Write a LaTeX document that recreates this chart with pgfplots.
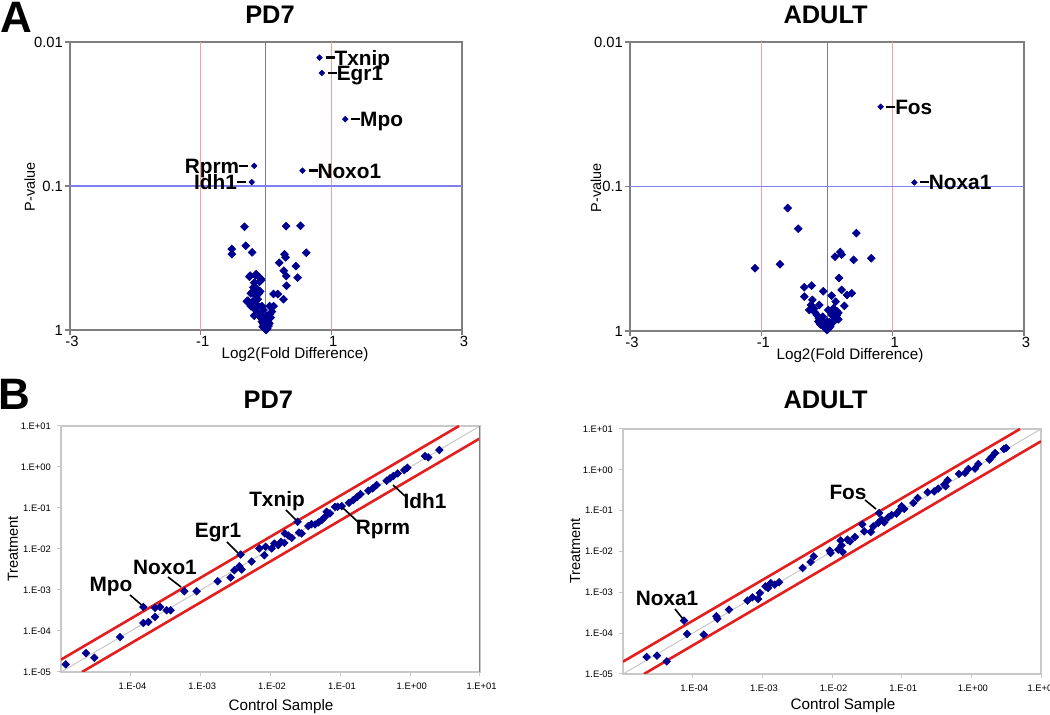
\documentclass[border=0pt]{standalone}
\usepackage{pgfplots}
\pgfplotsset{compat=1.18}
\usepackage{fontspec}
\setmainfont{Liberation Sans}
\definecolor{navy}{HTML}{000090}
\definecolor{boxgray}{HTML}{7F7F7F}
\definecolor{pinkred}{HTML}{F2A0A0}
\definecolor{lineblue}{HTML}{8080F0}
\definecolor{redline}{HTML}{E41E1E}
\definecolor{lgray}{HTML}{C8C8C8}
\newcommand{\fs}[1]{\fontsize{#1}{#1}\selectfont}
\newcommand{\gl}{\bfseries\fs{10.4}}
\newcommand{\rd}{\rule[3.2pt]{4.5pt}{1.1pt}}
\begin{document}
\begin{tikzpicture}
\path[use as bounding box] (0,0) rectangle (525pt,357.5pt);

% ---------------- A: PD7 volcano ----------------
\begin{axis}[scale only axis, width=196pt, height=144pt, at={(35pt,192.5pt)}, anchor=south west,
    xmin=-3, xmax=3, ymode=log, ymin=0.01, ymax=1, y dir=reverse,
    xtick={-3,-1,1,3}, xticklabels={-3,-1,1,3},
    ytick={0.01,0.1,1}, yticklabels={0.01,0.1,1},
    yminorticks=false,
    axis line style={boxgray, line width=1.1pt},
    tick style={boxgray, line width=0.6pt},
    tick align=outside, major tick length=2.5pt,
    xtick pos=left, ytick pos=left,
    ticklabel style={font=\fs{7.4}},
    xticklabel style={yshift=3pt, xshift=1pt},
    yticklabel style={xshift=2.5pt}]
\addplot[pinkred, line width=0.6pt] coordinates {(-1,0.01) (-1,1)};
\addplot[pinkred, line width=0.6pt] coordinates {(1,0.01) (1,1)};
\addplot[boxgray, line width=0.5pt] coordinates {(0,0.01) (0,1)};
\addplot[lineblue, line width=0.6pt] coordinates {(-3,0.1) (3,0.1)};
\addplot[only marks, mark=square*, mark options={rotate=45}, mark size=1.35pt, color=navy] coordinates {
(-0.33,0.192) (0.309,0.19) (0.529,0.189) (-0.523,0.274) (-0.523,0.297) (-0.309,0.26)
(-0.212,0.289) (0.616,0.291) (0.284,0.298) (0.299,0.313) (0.202,0.341) (0.457,0.36)
(0.273,0.388) (0.309,0.422) (0.483,0.433) (0.314,0.493) (0.115,0.563) (0.181,0.563)
(0.268,0.612) (-0.243,0.42) (-0.151,0.41) (-0.074,0.45) (-0.105,0.43) (-0.181,0.506)
(-0.13,0.522) (-0.202,0.542) (-0.089,0.539) (-0.278,0.626) (-0.125,0.612) (-0.151,0.66)
(-0.253,0.427) (-0.161,0.418) (-0.079,0.441) (-0.1,0.462) (-0.192,0.506) (-0.140,0.522)
(-0.110,0.557) (-0.232,0.557) (-0.294,0.633) (-0.202,0.633) (-0.151,0.661) (-0.232,0.683)
(-0.130,0.689) (-0.064,0.683) (-0.038,0.726) (0.054,0.683) (0.115,0.683) (0.089,0.746)
(-0.181,0.796) (-0.089,0.774) (-0.064,0.83) (0.013,0.796) (-0.028,0.861) (0.028,0.875)
(-0.038,0.908) (0.013,0.922) (-0.013,0.972) (0,1.0) (0.038,0.938) (-0.064,0.875)
(-0.05,0.95) (0.05,0.9) (0.02,0.98) (-0.1,0.8) (0.07,0.82) (-0.02,0.93)
(-0.17,0.72) (-0.12,0.76) (-0.08,0.82) (-0.04,0.88) (0.03,0.85) (0.06,0.78)
(-0.15,0.58) (-0.18,0.47) (-0.06,0.69) (0.0,0.95) (-0.01,0.9) (0.025,0.94)
};
\addplot[only marks, mark=square*, mark options={rotate=45}, mark size=0.95pt, color=navy] coordinates {
(0.82,0.01285) (0.855,0.0164) (1.213,0.0344) (0.559,0.0782) (-0.181,0.0725) (-0.217,0.094)
};
\node[anchor=base west, inner sep=0, xshift=2.8pt, yshift=-3.7pt, font=\gl] at (axis cs:0.82,0.01285) {\rd Txnip};
\node[anchor=base west, inner sep=0, xshift=2.8pt, yshift=-3.7pt, font=\gl] at (axis cs:0.855,0.0164) {\rd Egr1};
\node[anchor=base west, inner sep=0, xshift=2.8pt, yshift=-3.7pt, font=\gl] at (axis cs:1.213,0.0344) {\rd Mpo};
\node[anchor=base west, inner sep=0, xshift=2.8pt, yshift=-3.7pt, font=\gl] at (axis cs:0.559,0.0782) {\rd Noxo1};
\node[anchor=base east, inner sep=0, xshift=-2.8pt, yshift=-3.7pt, font=\gl] at (axis cs:-0.181,0.0725) {Rprm\rd};
\node[anchor=base east, inner sep=0, xshift=-2.8pt, yshift=-3.7pt, font=\gl] at (axis cs:-0.217,0.094) {Idh1\rd};
\end{axis}

% ---------------- A: ADULT volcano ----------------
\begin{axis}[scale only axis, width=197pt, height=144.5pt, at={(315pt,192pt)}, anchor=south west,
    xmin=-3, xmax=3, ymode=log, ymin=0.01, ymax=1, y dir=reverse,
    xtick={-3,-1,1,3}, xticklabels={-3,-1,1,3},
    ytick={0.01,0.1,1}, yticklabels={0.01,0.1,1},
    yminorticks=false,
    axis line style={boxgray, line width=1.1pt},
    tick style={boxgray, line width=0.6pt},
    tick align=outside, major tick length=2.5pt,
    xtick pos=left, ytick pos=left,
    ticklabel style={font=\fs{7.4}},
    xticklabel style={yshift=3pt, xshift=1pt},
    yticklabel style={xshift=2.5pt}]
\addplot[pinkred, line width=0.6pt] coordinates {(-1,0.01) (-1,1)};
\addplot[pinkred, line width=0.6pt] coordinates {(1,0.01) (1,1)};
\addplot[boxgray, line width=0.5pt] coordinates {(0,0.01) (0,1)};
\addplot[lineblue, line width=0.6pt] coordinates {(-3,0.1) (3.03,0.1)};
\addplot[only marks, mark=square*, mark options={rotate=45}, mark size=1.35pt, color=navy] coordinates {
(-0.599,0.141) (-0.437,0.196) (0.447,0.21) (-1.096,0.368) (-0.716,0.345) (0.122,0.306)
(0.203,0.284) (0.223,0.296) (0.406,0.322) (0.675,0.314) (0.183,0.43) (-0.345,0.498)
(-0.234,0.485) (-0.345,0.578) (-0.056,0.531) (0.223,0.52) (0.071,0.569) (0.305,0.564)
(0.376,0.548) (-0.223,0.61) (0.132,0.627) (-0.117,0.661) (-0.244,0.661) (0.264,0.671)
(-0.269,0.716) (-0.183,0.746) (0.173,0.75) (0.020,0.716) (0.071,0.775) (-0.091,0.84)
(0.122,0.84) (-0.041,0.907) (0.046,0.907) (0,0.985) (-0.066,0.797) (0.096,0.697)
(-0.132,0.86) (0.173,0.83) (0,0.86) (-0.03,0.955) (0.03,0.955)
(-0.15,0.78) (0.15,0.78) (-0.02,0.93) (0.08,0.88) (-0.1,0.9)
(-0.05,0.93) (0.05,0.93) (-0.08,0.87) (0.09,0.85) (0.11,0.8) (-0.12,0.82)
(0.0,0.92) (-0.03,0.88) (0.035,0.87) (0.15,0.73) (-0.2,0.7)
};
\addplot[only marks, mark=square*, mark options={rotate=45}, mark size=0.95pt, color=navy] coordinates {(0.817,0.0281) (1.33,0.0938)};
\node[anchor=base west, inner sep=0, xshift=2.6pt, yshift=-3.7pt, font=\gl] at (axis cs:0.817,0.0281) {\rd Fos};
\node[anchor=base west, inner sep=0, xshift=2.6pt, yshift=-3.7pt, font=\gl] at (axis cs:1.33,0.0938) {\rd Noxa1};
\end{axis}

% ---------------- B: PD7 scatter ----------------
\begin{axis}[scale only axis, width=209.5pt, height=123pt, at={(30.5pt,21.5pt)}, anchor=south west,
    xmode=log, ymode=log, xmin=1e-5, xmax=10, ymin=1e-5, ymax=10,
    xtick={1e-4,1e-3,1e-2,1e-1,1,10},
    xticklabels={1.E-04,1.E-03,1.E-02,1.E-01,1.E+00,1.E+01},
    ytick={1e-5,1e-4,1e-3,1e-2,1e-1,1,10},
    yticklabels={1.E-05,1.E-04,1.E-03,1.E-02,1.E-01,1.E+00,1.E+01},
    xminorticks=false, yminorticks=false,
    axis line style={lgray, line width=0.6pt},
    tick style={lgray, line width=0.5pt},
    tick align=outside, major tick length=2pt,
    xtick pos=left, ytick pos=left,
    ticklabel style={font=\fs{4.7}},
    xticklabel style={xshift=0.8pt},
    yticklabel style={xshift=0.5pt}]
\addplot[lgray, line width=0.5pt] coordinates {(1e-5,1e-5) (10,10)};
\addplot[redline, line width=1.3pt] coordinates {(1e-5,2e-5) (5,10)};
\addplot[redline, line width=1.3pt] coordinates {(2e-5,1e-5) (10,5)};
\addplot[only marks, mark=square*, mark options={rotate=45}, mark size=1.3pt, color=navy] coordinates {
(1.17e-5,1.53e-5) (2.28e-5,2.90e-5) (3.00e-5,2.23e-5) (7.00e-5,7.13e-5) (1.51e-4,3.85e-4)
(1.51e-4,1.57e-4) (1.78e-4,1.66e-4) (2.22e-4,3.65e-4) (2.22e-4,2.20e-4) (2.62e-4,3.85e-4)
(3.26e-4,3.20e-4) (3.72e-4,3.20e-4) (5.83e-4,9.31e-4) (8.77e-4,9.31e-4) (1.75e-3,1.63e-3)
(2.69e-3,2.01e-3) (3.03e-3,3.03e-3) (3.58e-3,3.80e-3) (3.86e-3,3.15e-3) (3.74e-3,7.33e-3)
(5.37e-3,4.94e-3) (6.92e-3,1.03e-2) (8.17e-3,7.06e-3) (8.53e-3,1.13e-2) (1.04e-2,1.03e-2)
(1.14e-2,1.36e-2) (1.29e-2,1.24e-2) (1.41e-2,1.49e-2) (1.58e-2,1.41e-2) (1.61e-2,2.39e-2)
(1.80e-2,2.13e-2) (2.01e-2,1.87e-2) (2.45e-2,4.60e-2) (2.56e-2,2.52e-2) (2.79e-2,2.39e-2)
(3.48e-2,3.61e-2) (3.88e-2,4.04e-2) (4.34e-2,3.96e-2) (4.84e-2,4.44e-2) (5.41e-2,5.06e-2)
(6.03e-2,6.10e-2) (6.37e-2,8.07e-2) (7.11e-2,7.35e-2) (8.39e-2,0.107) (9.16e-2,0.107)
(0.1045,0.111) (0.133,0.134) (0.153,0.156) (0.175,0.188) (0.195,0.218) (0.252,0.263)
(0.290,0.300) (0.331,0.362) (0.460,0.461) (0.514,0.526) (0.574,0.601) (0.662,0.698)
(0.824,0.841) (0.910,0.959) (1.63,1.85) (1.82,1.72) (2.62,2.59)
};
\draw[boxgray, line width=0.8pt] (axis description cs:1,0) -- (axis description cs:1,1);
\end{axis}

% ---------------- B: ADULT scatter ----------------
\begin{axis}[scale only axis, width=209pt, height=122.5pt, at={(311.5pt,20.5pt)}, anchor=south west,
    xmode=log, ymode=log, xmin=1e-5, xmax=10, ymin=1e-5, ymax=10,
    xtick={1e-4,1e-3,1e-2,1e-1,1,10},
    xticklabels={1.E-04,1.E-03,1.E-02,1.E-01,1.E+00,1.E+01},
    ytick={1e-5,1e-4,1e-3,1e-2,1e-1,1,10},
    yticklabels={1.E-05,1.E-04,1.E-03,1.E-02,1.E-01,1.E+00,1.E+01},
    xminorticks=false, yminorticks=false,
    axis line style={lgray, line width=0.6pt},
    tick style={lgray, line width=0.5pt},
    tick align=outside, major tick length=2pt,
    xtick pos=left, ytick pos=left,
    ticklabel style={font=\fs{4.7}},
    xticklabel style={xshift=0.8pt},
    yticklabel style={xshift=0.5pt}]
\addplot[lgray, line width=0.5pt] coordinates {(1e-5,1e-5) (10,10)};
\addplot[redline, line width=1.3pt] coordinates {(1e-5,2e-5) (5,10)};
\addplot[redline, line width=1.3pt] coordinates {(2e-5,1e-5) (10,5)};
\addplot[only marks, mark=square*, mark options={rotate=45}, mark size=1.3pt, color=navy] coordinates {
(2.19e-5,2.61e-5) (3.08e-5,2.81e-5) (4.24e-5,2.04e-5) (7.52e-5,2.02e-4) (8.32e-5,9.55e-5)
(1.44e-4,9.18e-5) (2.19e-4,2.58e-4) (2.26e-4,2.26e-4) (3.33e-4,3.77e-4) (6.11e-4,6.25e-4)
(7.21e-4,7.55e-4) (8.71e-4,6.87e-4) (9.20e-4,9.64e-4) (1.11e-3,1.40e-3) (1.21e-3,1.28e-3)
(1.32e-3,1.69e-3) (1.51e-3,1.54e-3) (1.74e-3,1.76e-3) (3.78e-3,3.94e-3) (4.92e-3,5.53e-3)
(5.48e-3,7.62e-3) (9.31e-3,1.05e-2) (9.53e-3,9.18e-3) (1.23e-2,1.11e-2) (1.33e-2,1.87e-2)
(1.37e-2,1.42e-2) (1.42e-2,9.73e-3) (1.67e-2,1.95e-2) (1.81e-2,1.77e-2) (2.13e-2,2.26e-2)
(2.72e-2,4.62e-2) (2.90e-2,3.12e-2) (3.61e-2,3.01e-2) (3.91e-2,4.13e-2) (4.76e-2,8.77e-2)
(4.61e-2,4.99e-2) (5.15e-2,6.03e-2) (5.62e-2,5.18e-2) (6.41e-2,6.87e-2) (7.16e-2,7.83e-2)
(8.45e-2,8.45e-2) (9.44e-2,0.106) (9.98e-2,0.128) (0.109,0.110) (0.147,0.154)
(0.169,0.204) (0.236,0.281) (0.294,0.297) (0.336,0.346) (0.409,0.434) (0.428,0.394)
(0.457,0.553) (0.665,0.791) (0.811,0.836) (0.906,1.05) (1.13,1.07) (1.26,1.39)
(1.82,1.77) (1.96,2.06) (2.19,2.58) (2.94,3.24) (3.15,3.43)
};
\end{axis}

% ---------------- panel letters, titles, axis labels ----------------
\node[anchor=base west, inner sep=0, font=\bfseries\fs{22}] at (0pt,341pt) {A};
\node[anchor=base west, inner sep=0, font=\bfseries\fs{22}] at (-1pt,152.5pt) {B};
\node[anchor=base, inner sep=0, font=\bfseries\fs{12.7}] at (135pt,345.8pt) {PD7};
\node[anchor=base, inner sep=0, font=\bfseries\fs{12.7}] at (412.8pt,345.8pt) {ADULT};
\node[anchor=base, inner sep=0, font=\bfseries\fs{12.7}] at (134.2pt,153.3pt) {PD7};
\node[anchor=base, inner sep=0, font=\bfseries\fs{12.7}] at (412.8pt,153.3pt) {ADULT};

\node[anchor=base, inner sep=0, font=\fs{7.6}] at (147.5pt,178pt) {Log2(Fold Difference)};
\node[anchor=base, inner sep=0, font=\fs{7.6}] at (425pt,177.7pt) {Log2(Fold Difference)};
\node[anchor=base, inner sep=0, rotate=90, font=\fs{7.2}] at (17.5pt,264pt) {P-value};
\node[anchor=base, inner sep=0, rotate=90, font=\fs{7.2}] at (300.5pt,263.5pt) {P-value};

\node[anchor=base, inner sep=0, rotate=90, font=\fs{7.3}] at (9pt,83pt) {Treatment};
\node[anchor=base, inner sep=0, rotate=90, font=\fs{7.3}] at (290pt,82pt) {Treatment};
\node[anchor=base, inner sep=0, font=\fs{7.6}] at (140.5pt,2.4pt) {Control Sample};
\node[anchor=base, inner sep=0, font=\fs{7.6}] at (421.5pt,2.9pt) {Control Sample};

% ---------------- B gene labels with leader lines ----------------
\node[anchor=base, inner sep=0, font=\gl] at (55.5pt,61.5pt) {Mpo};
\draw[line width=0.8pt] (65pt,60pt) -- (70.8pt,55pt);
\node[anchor=base, inner sep=0, font=\gl] at (82.5pt,70pt) {Noxo1};
\draw[line width=0.8pt] (84pt,69pt) -- (90.5pt,64pt);
\node[anchor=base, inner sep=0, font=\gl] at (109pt,88.8pt) {Egr1};
\draw[line width=0.8pt] (113.5pt,86.5pt) -- (119pt,81pt);
\node[anchor=base, inner sep=0, font=\gl] at (138.5pt,104.2pt) {Txnip};
\draw[line width=0.8pt] (143pt,102.5pt) -- (148pt,97.5pt);
\node[anchor=base, inner sep=0, font=\gl] at (191.5pt,90pt) {Rprm};
\draw[line width=0.8pt] (171.5pt,103.5pt) -- (179pt,96.5pt);
\node[anchor=base, inner sep=0, font=\gl] at (212.5pt,103.3pt) {Idh1};
\draw[line width=0.8pt] (196.5pt,115pt) -- (202.5pt,109.5pt);
\node[anchor=base, inner sep=0, font=\gl] at (333.5pt,54.5pt) {Noxa1};
\draw[line width=0.8pt] (337.5pt,53pt) -- (341.5pt,48pt);
\node[anchor=base, inner sep=0, font=\gl] at (424pt,107.8pt) {Fos};
\draw[line width=0.8pt] (432.5pt,107.5pt) -- (438pt,103pt);
\end{tikzpicture}
\end{document}
